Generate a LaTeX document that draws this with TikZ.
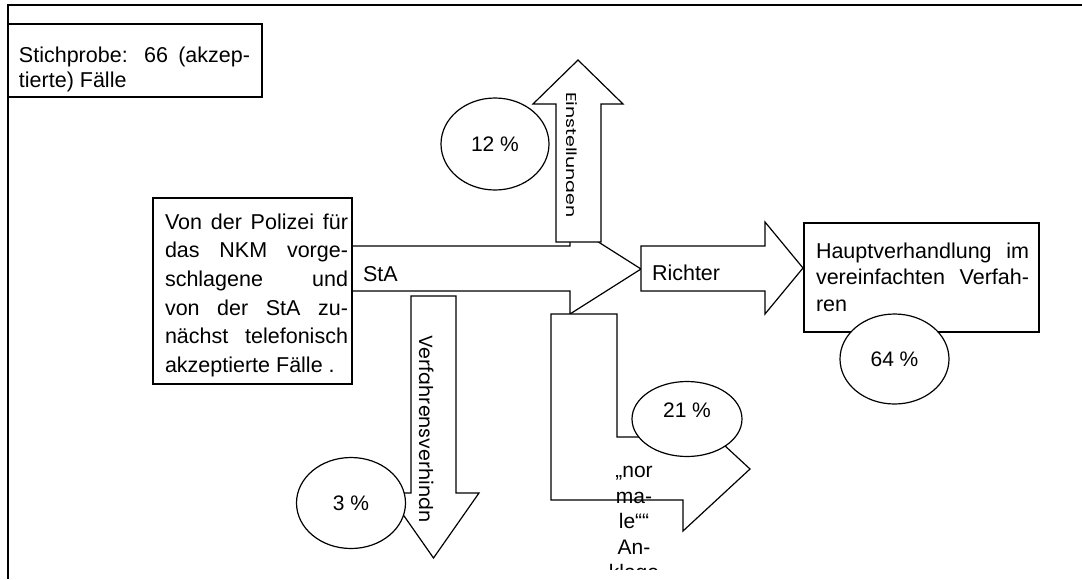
\documentclass[tikz,border=0pt]{standalone}
\usepackage{fontspec}
\usepackage{graphicx}
\setmainfont{Liberation Sans}
\newfontfamily\geofont{Poppins}
\usetikzlibrary{shapes.geometric}
\begin{document}
\begin{tikzpicture}[x=1pt,y=-1pt,
  line width=1.2pt, line join=miter,
  every node/.style={inner sep=0pt, outer sep=0pt},
  txt/.style={font=\fontsize{21.5}{24}\selectfont, align=left, anchor=north west},
  box/.style={draw, fill=white, rectangle, anchor=north west},
  pct/.style={draw, fill=white, ellipse, font=\fontsize{21}{24}\selectfont},
  blockarrow/.style={draw, fill=white},
  vtext/.style={font=\geofont\fontsize{19}{19}\selectfont, rotate=-90, anchor=base west}
]
\useasboundingbox (0,0) rectangle (1082,579);
% frame
\draw[line width=2pt] (1082,5) -- (8,5) -- (8,579);
% sample box
\node[box, minimum width=254pt, minimum height=73pt] (sbox) at (8,24) {};
\node[txt, font=\fontsize{21.5}{24.5}\selectfont] (stext) at (19,45.5)
  {\strut\makebox[231pt][s]{Stichprobe: 66 (akzep-}\\tierte) Fälle};
% StA arrow
\draw[blockarrow] (352,246) -- (570,246) -- (570,224) -- (641,269) -- (570,314) -- (570,291) -- (352,291) -- cycle;
% Einstellungen arrow
\draw[blockarrow] (556,242) -- (556,104) -- (533,104) -- (578,60) -- (623,104) -- (601,104) -- (601,242) -- cycle;
\begin{scope}
  \clip (566,60) rectangle (601,242);
  \node[vtext] (einst) at (566.5,92) {\scalebox{1}[0.75]{Einstellungen}};
\end{scope}
% Richter arrow
\draw[blockarrow] (641,246) -- (765,246) -- (765,222) -- (803,268) -- (765,314) -- (765,291) -- (641,291) -- cycle;
\node[txt, anchor=base west] (sta) at (363,281) {StA};
\node[txt, anchor=base west] (richter) at (652,280) {Richter};
% source box
\node[box, minimum width=199pt, minimum height=186pt] (src) at (153,198) {};
\node[txt, font=\fontsize{21.5}{28.7}\selectfont] (srctext) at (165,209)
  {\strut\makebox[183pt][s]{Von der Polizei für}\\
   \makebox[183pt][s]{das NKM vorge-}\\
   \makebox[183pt][s]{schlagene und}\\
   \makebox[183pt][s]{von der StA zu-}\\
   \makebox[183pt][s]{nächst telefonisch}\\
   akzeptierte Fälle .};
% main hearing box
\node[box, minimum width=235pt, minimum height=109pt] (hv) at (804,223) {};
\node[txt, font=\fontsize{21.5}{26.7}\selectfont] (hvtext) at (816,239.5)
  {\strut\makebox[213pt][s]{Hauptverhandlung im}\\
   \makebox[213pt][s]{vereinfachten Verfah-}\\
   ren};
% down arrow
\draw[blockarrow] (411,296) -- (456,296) -- (456,493) -- (479,493) -- (433.5,558) -- (388,493) -- (411,493) -- cycle;
\node[vtext] (verf) at (419,335) {Verfahrensverhindn};
% L arrow
\draw[blockarrow] (551,314) -- (617,314) -- (617,437) -- (683,437) -- (683,407) -- (750,469) -- (683,531) -- (683,500) -- (551,500) -- cycle;
% ellipses
\node[pct, minimum width=108pt, minimum height=92pt] (p12) at (495,144) {12 \%};
\node[pct, minimum width=109pt, minimum height=91pt] (p3) at (351,503) {3 \%};
\node[pct, minimum width=110pt, minimum height=75pt, text height=15pt, text depth=18pt] (p21) at (687,419) {21 \%};
\node[pct, minimum width=109pt, minimum height=90pt] (p64) at (894.5,359) {64 \%};
% normale text
\begin{scope}
  \clip (540,440) rectangle (760,569);
  \node[font=\fontsize{21}{25.5}\selectfont, align=center, anchor=north] (norm) at (634,460)
    {\strut„nor\\ma-\\le““\\An-\\klage};
\end{scope}
\end{tikzpicture}
\end{document}
